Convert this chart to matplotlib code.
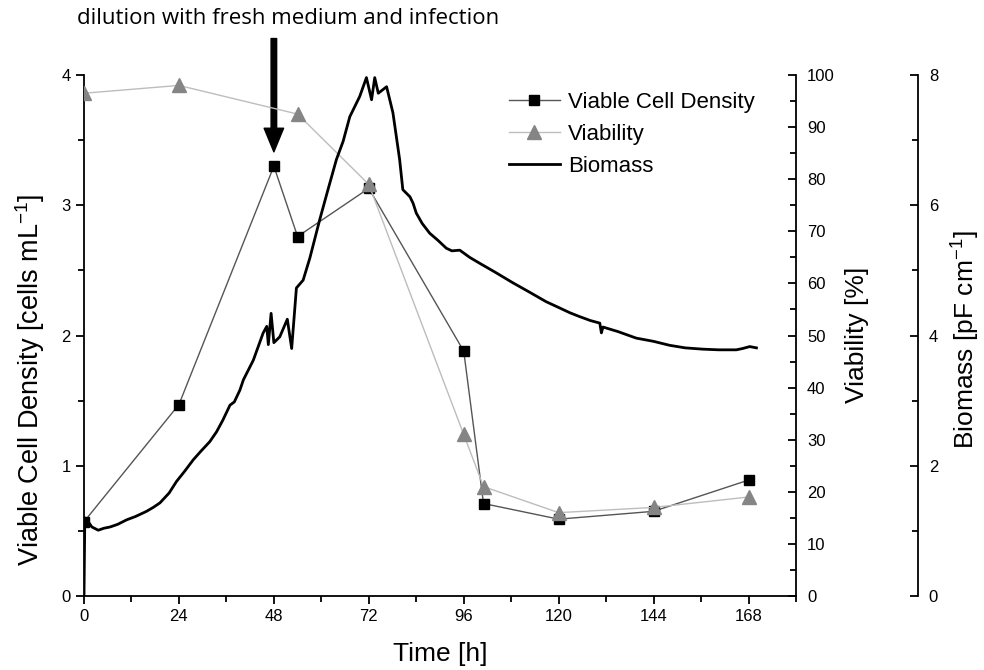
import numpy as np
import matplotlib
matplotlib.use("Agg")
import matplotlib.pyplot as plt
from matplotlib.ticker import MultipleLocator

plt.rcParams['font.family'] = ['Liberation Sans', 'DejaVu Sans']
plt.rcParams['mathtext.default'] = 'regular'

## data
sample_time = [0, 24, 48, 54, 72, 96, 101, 120, 144, 168]
vcd = [0.57, 1.47, 3.30, 2.76, 3.13, 1.88, 0.71, 0.59, 0.65, 0.89]

viab_time = [0, 24, 54, 72, 96, 101, 120, 144, 168]
viability = [96.5, 98.0, 92.5, 79.0, 31.0, 21.0, 16.0, 17.0, 19.0]

bio_time = [0, 0.2, 0.7, 2.0, 3.6, 5.0, 6.6, 8.5, 10.8, 13.0, 15.8, 17.5, 19.2, 21.5,
            23.4, 25.5, 27.6, 29.5, 31.8, 33.5, 35.1, 36.9, 38.0,
            39.4, 40.3, 42.8, 45.3, 46.2, 46.6, 47.3, 48.0, 49.5, 51.4, 52.5, 53.7,
            55.4, 57.1, 59.6, 61.5, 63.8, 65.5, 67.2, 69.7, 71.4, 72.7, 73.5, 74.4, 76.5, 78.1,
            79.8, 80.6, 82.4, 83.2, 84.0, 85.5, 87.4, 89.5, 91.6, 93.0, 95.0, 97.5, 100.0,
            104.0, 108.4, 112.5, 116.8, 120.0,
            122.8, 125.3, 128.0, 130.4, 130.8, 131.2, 135.0, 139.6, 144.0, 148.0, 152.0,
            156.5, 160.5, 164.9, 166.5, 168.3, 170.0]
biomass = [0.0, 1.20, 1.17, 1.06, 1.01, 1.04, 1.06, 1.10, 1.17, 1.22, 1.30, 1.36, 1.43, 1.58,
           1.76, 1.92, 2.09, 2.22, 2.37, 2.52, 2.70, 2.93, 2.98,
           3.16, 3.32, 3.62, 4.04, 4.14, 3.86, 4.34, 3.89, 3.98, 4.25, 3.80, 4.73,
           4.85, 5.19, 5.78, 6.20, 6.70, 6.98, 7.36, 7.67, 7.96, 7.62, 7.96, 7.72, 7.82, 7.42,
           6.70, 6.24, 6.13, 6.03, 5.88, 5.72, 5.57, 5.46, 5.34, 5.30, 5.31, 5.20, 5.11,
           4.97, 4.81, 4.67, 4.52, 4.43,
           4.35, 4.29, 4.23, 4.19, 4.04, 4.13, 4.06, 3.96, 3.91, 3.85, 3.81,
           3.79, 3.78, 3.78, 3.80, 3.83, 3.81]

x_ticks = [0, 24, 48, 72, 96, 120, 144, 168]

fig = plt.figure(figsize=(9.84, 6.7), dpi=100)
ax = fig.add_axes([84/984, 74/670, 712/984, 521/670])
ax2 = ax.twinx()
ax3 = ax.twinx()

## lines
ax.plot(sample_time, vcd, color='#555555', lw=1.0, marker='s', ms=7,
        mfc='black', mec='black', label='Viable Cell Density', zorder=3)
ax2.plot(viab_time, viability, color='#bdbdbd', lw=1.0, marker='^', ms=9.5,
         mfc='#858585', mec='#858585', label='Viability')
ax3.plot(bio_time, biomass, color='black', lw=2.0, label='Biomass')

## axes
ax.set_xlim(0, 180)
ax.set_ylim(0, 4)
ax2.set_ylim(0, 100)
ax3.set_ylim(0, 8)

ax.set_xticks(x_ticks)
ax.xaxis.set_minor_locator(MultipleLocator(12))
ax.yaxis.set_major_locator(MultipleLocator(1))
ax.yaxis.set_minor_locator(MultipleLocator(0.5))
ax2.yaxis.set_major_locator(MultipleLocator(10))
ax2.yaxis.set_minor_locator(MultipleLocator(5))
ax3.yaxis.set_major_locator(MultipleLocator(2))
ax3.yaxis.set_minor_locator(MultipleLocator(1))

for a in (ax, ax2, ax3):
    for s in a.spines.values():
        s.set_visible(False)
        s.set_linewidth(1.3)
ax.spines['left'].set_visible(True)
ax.spines['bottom'].set_visible(True)
ax2.spines['right'].set_visible(True)
ax3.spines['right'].set_visible(True)
ax3.spines['right'].set_position(('axes', 1.171))

ax.tick_params(which='major', direction='out', length=6, width=1.3, labelsize=12)
ax.tick_params(which='minor', direction='out', length=4, width=1.3)
for a in (ax2, ax3):
    a.tick_params(which='major', direction='in', length=6, width=1.3, labelsize=12, pad=8)
    a.tick_params(which='minor', direction='in', length=4, width=1.3)

## labels
fig.text(30/984, 1 - 380/670, r'Viable Cell Density [cells mL$^{-1}$]', rotation=90,
         ha='center', va='center', fontsize=19.5)
fig.text(857/984, 1 - 335/670, 'Viability [%]', rotation=90,
         ha='center', va='center', fontsize=19)
fig.text(966/984, 1 - 340/670, r'Biomass [pF cm$^{-1}$]', rotation=90,
         ha='center', va='center', fontsize=19)
fig.text(440/984, 1 - 654/670, 'Time [h]', ha='center', va='center', fontsize=19)

## annotation
ax.annotate('', xy=(48, 3.41), xytext=(48, 4.28), annotation_clip=False,
            arrowprops=dict(facecolor='black', edgecolor='black', width=4,
                            headwidth=14, headlength=17, shrink=0))
fig.text(288/984, 1 - 19/670, 'dilution with fresh medium and infection',
         ha='center', va='center', fontsize=16, family=['Open Sans', 'DejaVu Sans'])

handles = []
labels = []
for a in (ax, ax2, ax3):
    h, l = a.get_legend_handles_labels()
    handles += h
    labels += l
ax3.legend(handles, labels, loc='upper left', bbox_to_anchor=(500/984, 1 - 83/670),
           bbox_transform=fig.transFigure, frameon=False, fontsize=16,
           handlelength=2.3, labelspacing=0.5, borderaxespad=0, handletextpad=0.35)

fig.savefig('out.png', dpi=100)
